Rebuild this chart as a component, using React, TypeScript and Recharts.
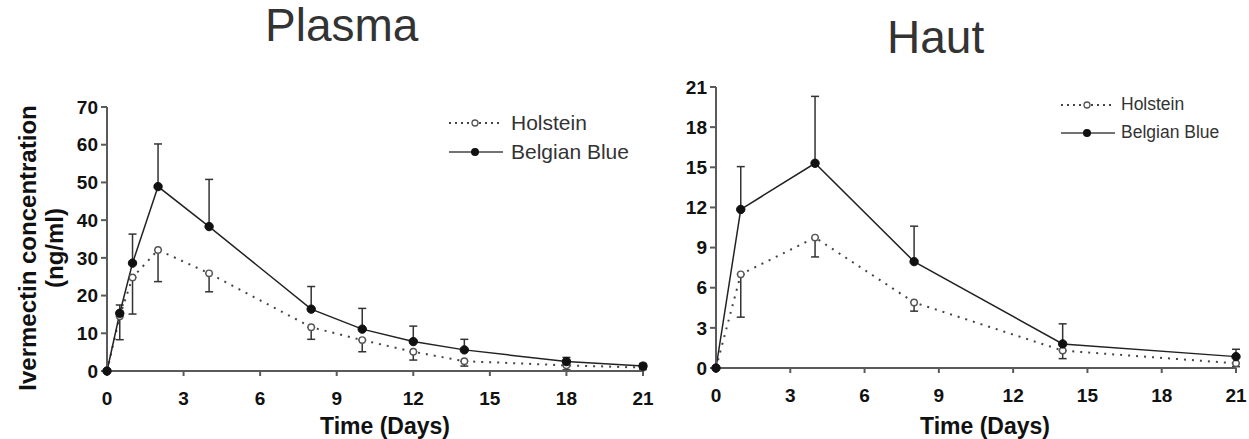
import { LineChart, Line, XAxis, YAxis, ErrorBar } from "recharts";

const FONT = "'Liberation Sans', Arial, sans-serif";

const plasmaDays = [0, 0.5, 1, 2, 4, 8, 10, 12, 14, 18, 21];
const plasmaHolstein = [0, 14.5, 24.8, 32.1, 25.9, 11.6, 8.2, 5.1, 2.6, 1.5, 0.9];
const plasmaHolsteinLow = [0, 6.2, 9.7, 8.4, 4.9, 3.2, 3.1, 2.2, 1.3, 1.2, 0.5];
const plasmaBelgian = [0, 15.3, 28.6, 48.9, 38.3, 16.4, 11.1, 7.8, 5.6, 2.5, 1.3];
const plasmaBelgianHigh = [0, 2.2, 7.7, 11.3, 12.5, 6, 5.5, 4.1, 2.8, 1.1, 0.7];

const skinDays = [0, 1, 4, 8, 14, 21];
const skinHolstein = [0, 7.0, 9.75, 4.9, 1.3, 0.35];
const skinHolsteinLow = [0, 3.2, 1.45, 0.65, 0.6, 0.25];
const skinBelgian = [0, 11.85, 15.3, 7.95, 1.8, 0.85];
const skinBelgianHigh = [0, 3.2, 5.0, 2.65, 1.5, 0.55];

const dayTicks = [0, 3, 6, 9, 12, 15, 18, 21];
const plasmaTicks = [0, 10, 20, 30, 40, 50, 60, 70];
const skinTicks = [0, 3, 6, 9, 12, 15, 18, 21];
const seriesNames = ["Holstein", "Belgian Blue"];

const plasmaRows = plasmaDays.map((d, i) => ({
  day: d,
  hol: plasmaHolstein[i],
  holErr: [plasmaHolsteinLow[i], 0],
  bb: plasmaBelgian[i],
  bbErr: [0, plasmaBelgianHigh[i]],
}));

const skinRows = skinDays.map((d, i) => ({
  day: d,
  hol: skinHolstein[i],
  holErr: [skinHolsteinLow[i], 0],
  bb: skinBelgian[i],
  bbErr: [0, skinBelgianHigh[i]],
}));

const AXIS = "#5a5a5a";
const tickStyle = { fill: "#111", fontSize: 19, fontWeight: 700, fontFamily: FONT };

// legend drawn as plain html so the plot area isn't shrunk by recharts
function LegendBox(props: { left: number; top: number; size: number; rowH: number; gap: number }) {
  const { left, top, size, rowH, gap } = props;
  return (
    <div
      style={{
        position: "absolute",
        left,
        top,
        fontFamily: FONT,
        fontSize: size,
        color: "#333",
        lineHeight: 1,
      }}
    >
      {seriesNames.map((name, i) => {
        const dotted = i === 0;
        return (
          <div key={name} style={{ display: "flex", alignItems: "center", height: rowH }}>
            <svg width={56} height={12} style={{ marginRight: gap }}>
              <line
                x1={1}
                y1={6}
                x2={55}
                y2={6}
                stroke="#444"
                strokeWidth={dotted ? 2 : 1.3}
                strokeDasharray={dotted ? "2 4" : undefined}
              />
              {dotted ? (
                <circle cx={27} cy={6} r={3} fill="#fff" stroke="#555" strokeWidth={1.3} />
              ) : (
                <circle cx={27} cy={6} r={4} fill="#111" />
              )}
            </svg>
            <span>{name}</span>
          </div>
        );
      })}
    </div>
  );
}

function PkChart(props: {
  rows: any[];
  width: number;
  margin: { top: number; right: number; bottom: number; left: number };
  yMax: number;
  yTicks: number[];
}) {
  const { rows, width, margin, yMax, yTicks } = props;
  return (
    <LineChart width={width} height={439} data={rows} margin={margin}>
      <XAxis
        dataKey="day"
        type="number"
        domain={[0, 21]}
        ticks={dayTicks}
        tick={tickStyle}
        tickSize={5}
        tickMargin={16}
        height={30}
        stroke={AXIS}
        strokeWidth={2}
        tickLine={{ stroke: AXIS, strokeWidth: 2 }}
      />
      <YAxis
        type="number"
        domain={[0, yMax]}
        ticks={yTicks}
        tick={tickStyle}
        tickSize={6}
        tickMargin={3}
        width={40}
        stroke={AXIS}
        strokeWidth={2}
        tickLine={{ stroke: AXIS, strokeWidth: 2 }}
      />
      <Line
        dataKey="hol"
        stroke="#444"
        strokeWidth={2}
        strokeDasharray="2 6"
        dot={{ r: 3.2, fill: "#fff", stroke: "#555", strokeWidth: 1.4, strokeDasharray: "" }}
        isAnimationActive={false}
      >
        <ErrorBar dataKey="holErr" direction="y" width={4} stroke="#333" strokeWidth={1.5} />
      </Line>
      <Line
        dataKey="bb"
        stroke="#222"
        strokeWidth={1.5}
        dot={{ r: 4.2, fill: "#111", stroke: "#111", strokeWidth: 1 }}
        isAnimationActive={false}
      >
        <ErrorBar dataKey="bbErr" direction="y" width={4} stroke="#333" strokeWidth={1.5} />
      </Line>
    </LineChart>
  );
}

const labelStyle = {
  position: "absolute" as const,
  fontFamily: FONT,
  fontWeight: 700,
  fontSize: 23,
  color: "#111",
  whiteSpace: "nowrap" as const,
};

const titleStyle = {
  position: "absolute" as const,
  fontFamily: FONT,
  fontSize: 46,
  color: "#333",
  lineHeight: 1,
  whiteSpace: "nowrap" as const,
};

export default function App() {
  return (
    <div
      style={{
        position: "absolute",
        left: 0,
        top: 0,
        width: 1249,
        height: 439,
        background: "#fff",
        overflow: "hidden",
      }}
    >
      <div style={{ position: "absolute", left: 0, top: 0 }}>
        <PkChart
          rows={plasmaRows}
          width={660}
          margin={{ top: 107, right: 17, bottom: 38, left: 67 }}
          yMax={70}
          yTicks={plasmaTicks}
        />
      </div>
      <div style={{ position: "absolute", left: 660, top: 0 }}>
        <PkChart
          rows={skinRows}
          width={589}
          margin={{ top: 87, right: 13, bottom: 41, left: 16 }}
          yMax={21}
          yTicks={skinTicks}
        />
      </div>

      <LegendBox left={448} top={108} size={21} rowH={29} gap={7} />
      <LegendBox left={1060} top={91} size={17.5} rowH={28} gap={5} />

      <div style={{ ...titleStyle, left: 265, top: 2 }}>Plasma</div>
      <div style={{ ...titleStyle, left: 887, top: 14 }}>Haut</div>

      <div
        style={{
          ...labelStyle,
          fontSize: 24,
          left: 41,
          top: 248,
          textAlign: "center",
          lineHeight: "27px",
          transform: "translate(-50%, -50%) rotate(-90deg)",
        }}
      >
        Ivermectin concentration
        <br />
        (ng/ml)
      </div>
      <div style={{ ...labelStyle, left: 385, top: 426, transform: "translate(-50%, -50%)" }}>
        Time (Days)
      </div>
      <div style={{ ...labelStyle, left: 985, top: 426, transform: "translate(-50%, -50%)" }}>
        Time (Days)
      </div>
    </div>
  );
}
